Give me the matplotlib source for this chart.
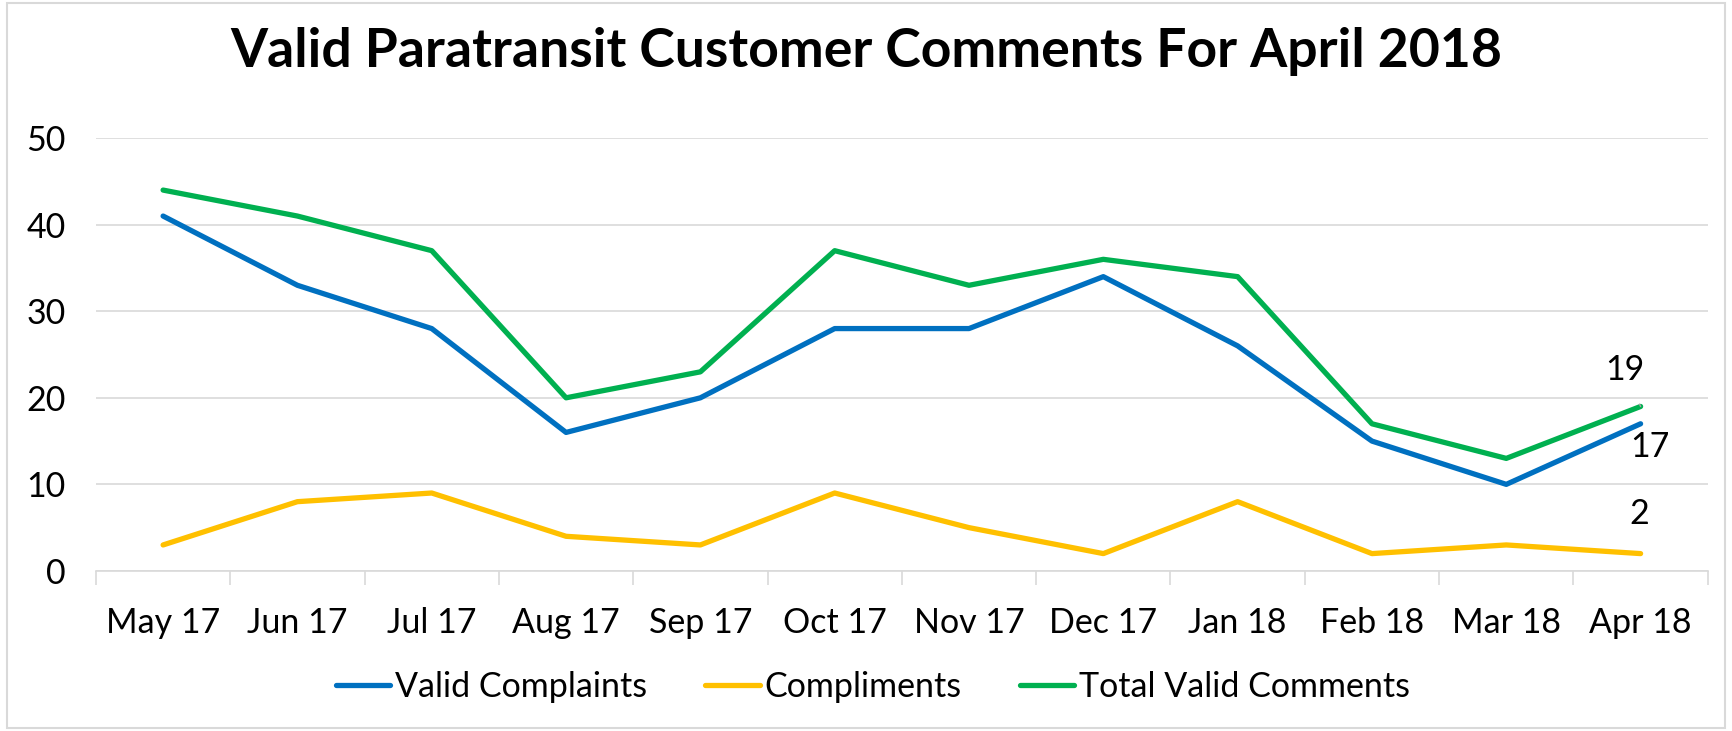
import matplotlib.pyplot as plt
from matplotlib.patches import Rectangle

months = ["May 17", "Jun 17", "Jul 17", "Aug 17", "Sep 17", "Oct 17",
          "Nov 17", "Dec 17", "Jan 18", "Feb 18", "Mar 18", "Apr 18"]
valid_complaints = [41, 33, 28, 16, 20, 28, 28, 34, 26, 15, 10, 17]
compliments = [3, 8, 9, 4, 3, 9, 5, 2, 8, 2, 3, 2]
total_valid = [44, 41, 37, 20, 23, 37, 33, 36, 34, 17, 13, 19]

plt.rcParams['font.family'] = ['Lato', 'DejaVu Sans']
fs = 24.5

fig = plt.figure(figsize=(17.32, 7.31), dpi=100)
ax = fig.add_axes([0.0554, 0.219, 0.9306, 0.592])

x = list(range(len(months)))
ax.plot(x, valid_complaints, color="#0070C0", lw=3.8, label="Valid Complaints", solid_capstyle="round")
ax.plot(x, compliments, color="#FFC000", lw=3.8, label="Compliments", solid_capstyle="round")
ax.plot(x, total_valid, color="#00B050", lw=3.8, label="Total Valid Comments", solid_capstyle="round")

ax.set_xlim(-0.5, len(months) - 0.5)
ax.set_ylim(0, 50)
ax.set_yticks(range(0, 51, 10))
ax.set_xticks(x)
ax.set_xticklabels(months)
ax.set_xticks([i - 0.5 for i in range(len(months) + 1)], minor=True)
ax.tick_params(axis="x", which="major", length=0, pad=26, labelsize=fs)
ax.tick_params(axis="x", which="minor", length=10, color="#D9D9D9", width=1.2)
ax.tick_params(axis="y", length=0, pad=22, labelsize=fs)
ax.grid(axis="y", color="#D9D9D9", lw=1.2)
ax.set_axisbelow(True)
for s in ["top", "right", "left"]:
    ax.spines[s].set_visible(False)
ax.spines["bottom"].set_color("#D9D9D9")
ax.spines["bottom"].set_linewidth(1.2)

# data labels on last point
last = len(months) - 1
ax.annotate(str(total_valid[last]), xy=(last, total_valid[last]), xytext=(last - 0.12, 23.2),
            fontsize=fs, ha="center", va="center",
            arrowprops=dict(arrowstyle="-", color="#A6A6A6", lw=1, shrinkA=12, shrinkB=0))
ax.text(last + 0.07, 14.3, str(valid_complaints[last]), fontsize=fs, ha="center", va="center")
ax.text(last - 0.01, 6.6, str(compliments[last]), fontsize=fs, ha="center", va="center")

fig.text(0.5, 0.93, "Valid Paratransit Customer Comments For April 2018", fontsize=38.5,
         fontweight="bold", ha="center", va="center")

fig.legend(*ax.get_legend_handles_labels(), loc="center", bbox_to_anchor=(0.504, 0.06),
           ncol=3, frameon=False, fontsize=fs, handlelength=1.6, columnspacing=1.7,
           handletextpad=0.15)

fig.patches.append(Rectangle((0.004, 0.004), 0.992, 0.992, transform=fig.transFigure,
                             fill=False, edgecolor="#D9D9D9", lw=1.5))

fig.savefig("out.png", dpi=100)
